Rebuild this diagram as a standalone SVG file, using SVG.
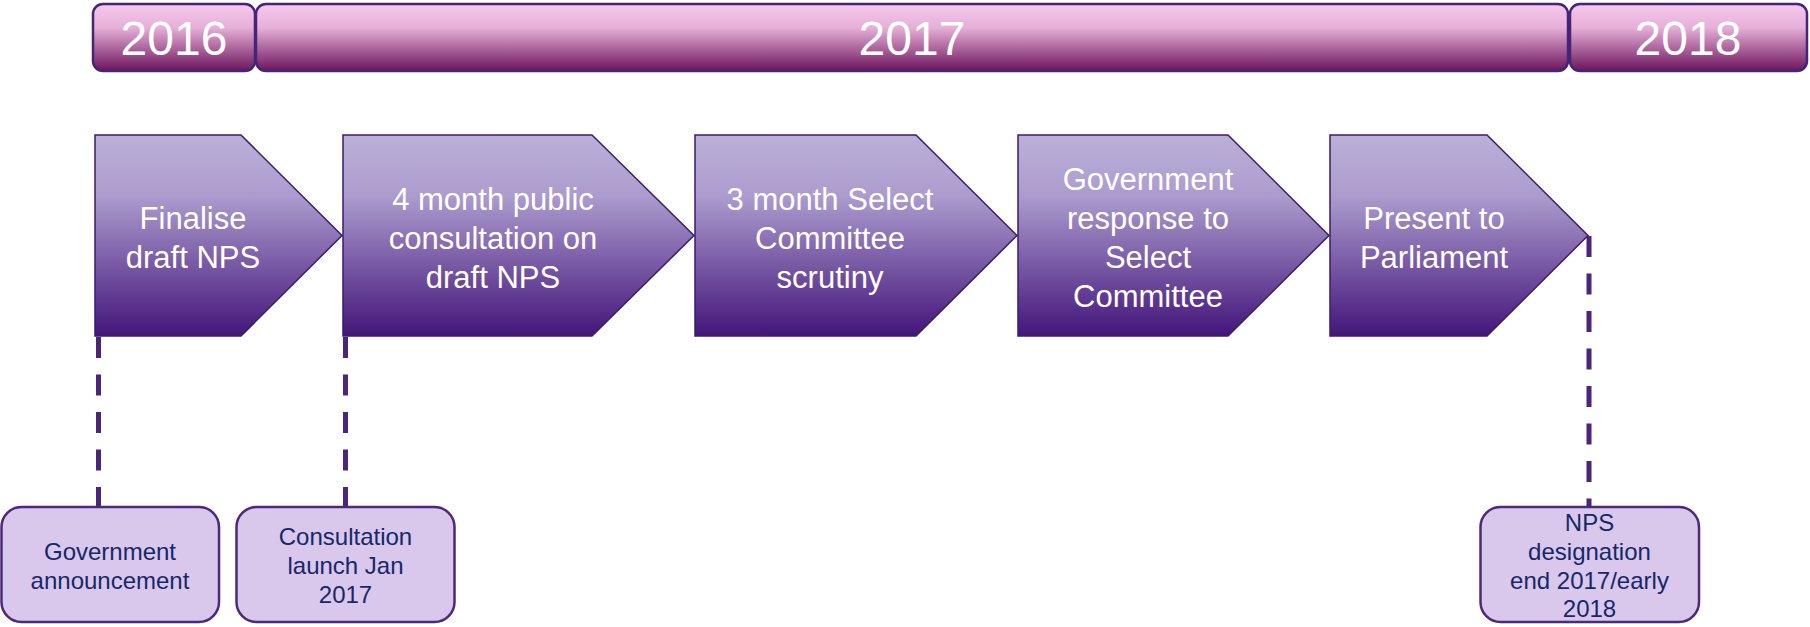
<svg xmlns="http://www.w3.org/2000/svg" width="1810" height="627" viewBox="0 0 1810 627">
<defs>
<linearGradient id="gy" x1="0" y1="0" x2="0" y2="1">
<stop offset="0" stop-color="#f6c8ec"/>
<stop offset="0.35" stop-color="#e6b0d8"/>
<stop offset="1" stop-color="#6c145c"/>
</linearGradient>
<linearGradient id="gc" x1="0" y1="0" x2="0" y2="1">
<stop offset="0" stop-color="#bbb0d8"/>
<stop offset="0.3" stop-color="#ac9cce"/>
<stop offset="1" stop-color="#43157a"/>
</linearGradient>
<style>
.year rect{fill:url(#gy);stroke:#44257a;stroke-width:2.5}
.year text{font-family:"Liberation Sans",Arial,sans-serif;font-size:48px;fill:#ffffff;text-anchor:middle}
.chev path{fill:url(#gc);stroke:#3a1d6c;stroke-width:1.5}
.chev text{font-family:"Liberation Sans",Arial,sans-serif;font-size:31px;fill:#ffffff;text-anchor:middle}
.box rect{fill:#d9c7ec;stroke:#4b2a7a;stroke-width:2.5}
.box text{font-family:"Liberation Sans",Arial,sans-serif;font-size:24px;fill:#16286a;text-anchor:middle}
.conn line{stroke:#4a2579;stroke-width:5;stroke-dasharray:21 16.5}
</style>
</defs>
<g id="year2016" class="year"><rect x="93" y="4" width="162" height="67" rx="10"/><text x="174" y="55">2016</text></g>
<g id="year2017" class="year"><rect x="256" y="4" width="1312" height="67" rx="10"/><text x="912" y="55">2017</text></g>
<g id="year2018" class="year"><rect x="1570" y="4" width="237" height="67" rx="10"/><text x="1688" y="55">2018</text></g>

<g id="connectors" class="conn">
<line x1="98.5" y1="337" x2="98.5" y2="507"/>
<line x1="345.5" y1="337" x2="345.5" y2="507"/>
<line x1="1589" y1="236" x2="1589" y2="507"/>
</g>

<g id="step1" class="chev"><path d="M95,135 H241 L342,235.5 L241,336 H95 Z"/>
<text><tspan x="193" y="229">Finalise</tspan><tspan x="193" y="268">draft NPS</tspan></text></g>
<g id="step2" class="chev"><path d="M343,135 H592 L694,235.5 L592,336 H343 Z"/>
<text><tspan x="493" y="210">4 month public</tspan><tspan x="493" y="249">consultation on</tspan><tspan x="493" y="288">draft NPS</tspan></text></g>
<g id="step3" class="chev"><path d="M695,135 H916 L1017,235.5 L916,336 H695 Z"/>
<text><tspan x="830" y="210">3 month Select</tspan><tspan x="830" y="249">Committee</tspan><tspan x="830" y="288">scrutiny</tspan></text></g>
<g id="step4" class="chev"><path d="M1018,135 H1228 L1329,235.5 L1228,336 H1018 Z"/>
<text><tspan x="1148" y="190">Government</tspan><tspan x="1148" y="229">response to</tspan><tspan x="1148" y="268">Select</tspan><tspan x="1148" y="307">Committee</tspan></text></g>
<g id="step5" class="chev"><path d="M1330,135 H1487 L1588,235.5 L1487,336 H1330 Z"/>
<text><tspan x="1434" y="229">Present to</tspan><tspan x="1434" y="268">Parliament</tspan></text></g>

<g id="note1" class="box"><rect x="1.5" y="507" width="217.5" height="115" rx="20"/>
<text><tspan x="110" y="560">Government</tspan><tspan x="110" y="589">announcement</tspan></text></g>
<g id="note2" class="box"><rect x="236.5" y="507" width="218" height="115" rx="20"/>
<text><tspan x="345.5" y="545">Consultation</tspan><tspan x="345.5" y="574">launch Jan</tspan><tspan x="345.5" y="603">2017</tspan></text></g>
<g id="note3" class="box"><rect x="1480.5" y="507" width="218.5" height="115" rx="20"/>
<text><tspan x="1589.5" y="531">NPS</tspan><tspan x="1589.5" y="560">designation</tspan><tspan x="1589.5" y="589">end 2017/early</tspan><tspan x="1589.5" y="617">2018</tspan></text></g>
</svg>
